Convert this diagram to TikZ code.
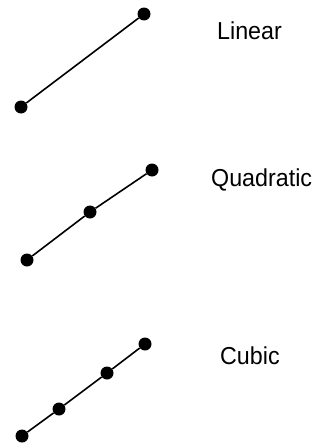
\documentclass[tikz,border=0pt]{standalone}
\usepackage{fontspec}
\setmainfont{Liberation Sans}
\begin{document}
\begin{tikzpicture}[x=1pt,y=-1pt,
  dot/.style={circle,fill=black,inner sep=0pt,minimum size=13pt},
  seg/.style={line width=1.6pt},
  lbl/.style={font=\fontsize{24.5}{28}\selectfont,inner sep=0pt,anchor=base west,xscale=0.95}]
\useasboundingbox (0,0) rectangle (322,447);
% Linear
\node[dot] (l1) at (21,107) {};
\node[dot] (l2) at (144,14) {};
\draw[seg] (l1) -- (l2);
\node[lbl] (tl) at (217,39.3) {Linear};
% Quadratic
\node[dot] (q1) at (27,260) {};
\node[dot] (q2) at (90,212) {};
\node[dot] (q3) at (152,170) {};
\draw[seg] (q1) -- (q2) -- (q3);
\node[lbl] (tq) at (211,186) {Quadratic};
% Cubic
\node[dot] (c1) at (22,436) {};
\node[dot] (c2) at (59,409) {};
\node[dot] (c3) at (107,373) {};
\node[dot] (c4) at (145,344) {};
\draw[seg] (c1) -- (c2) -- (c3) -- (c4);
\node[lbl] (tc) at (220,364.3) {Cubic};
\end{tikzpicture}
\end{document}
